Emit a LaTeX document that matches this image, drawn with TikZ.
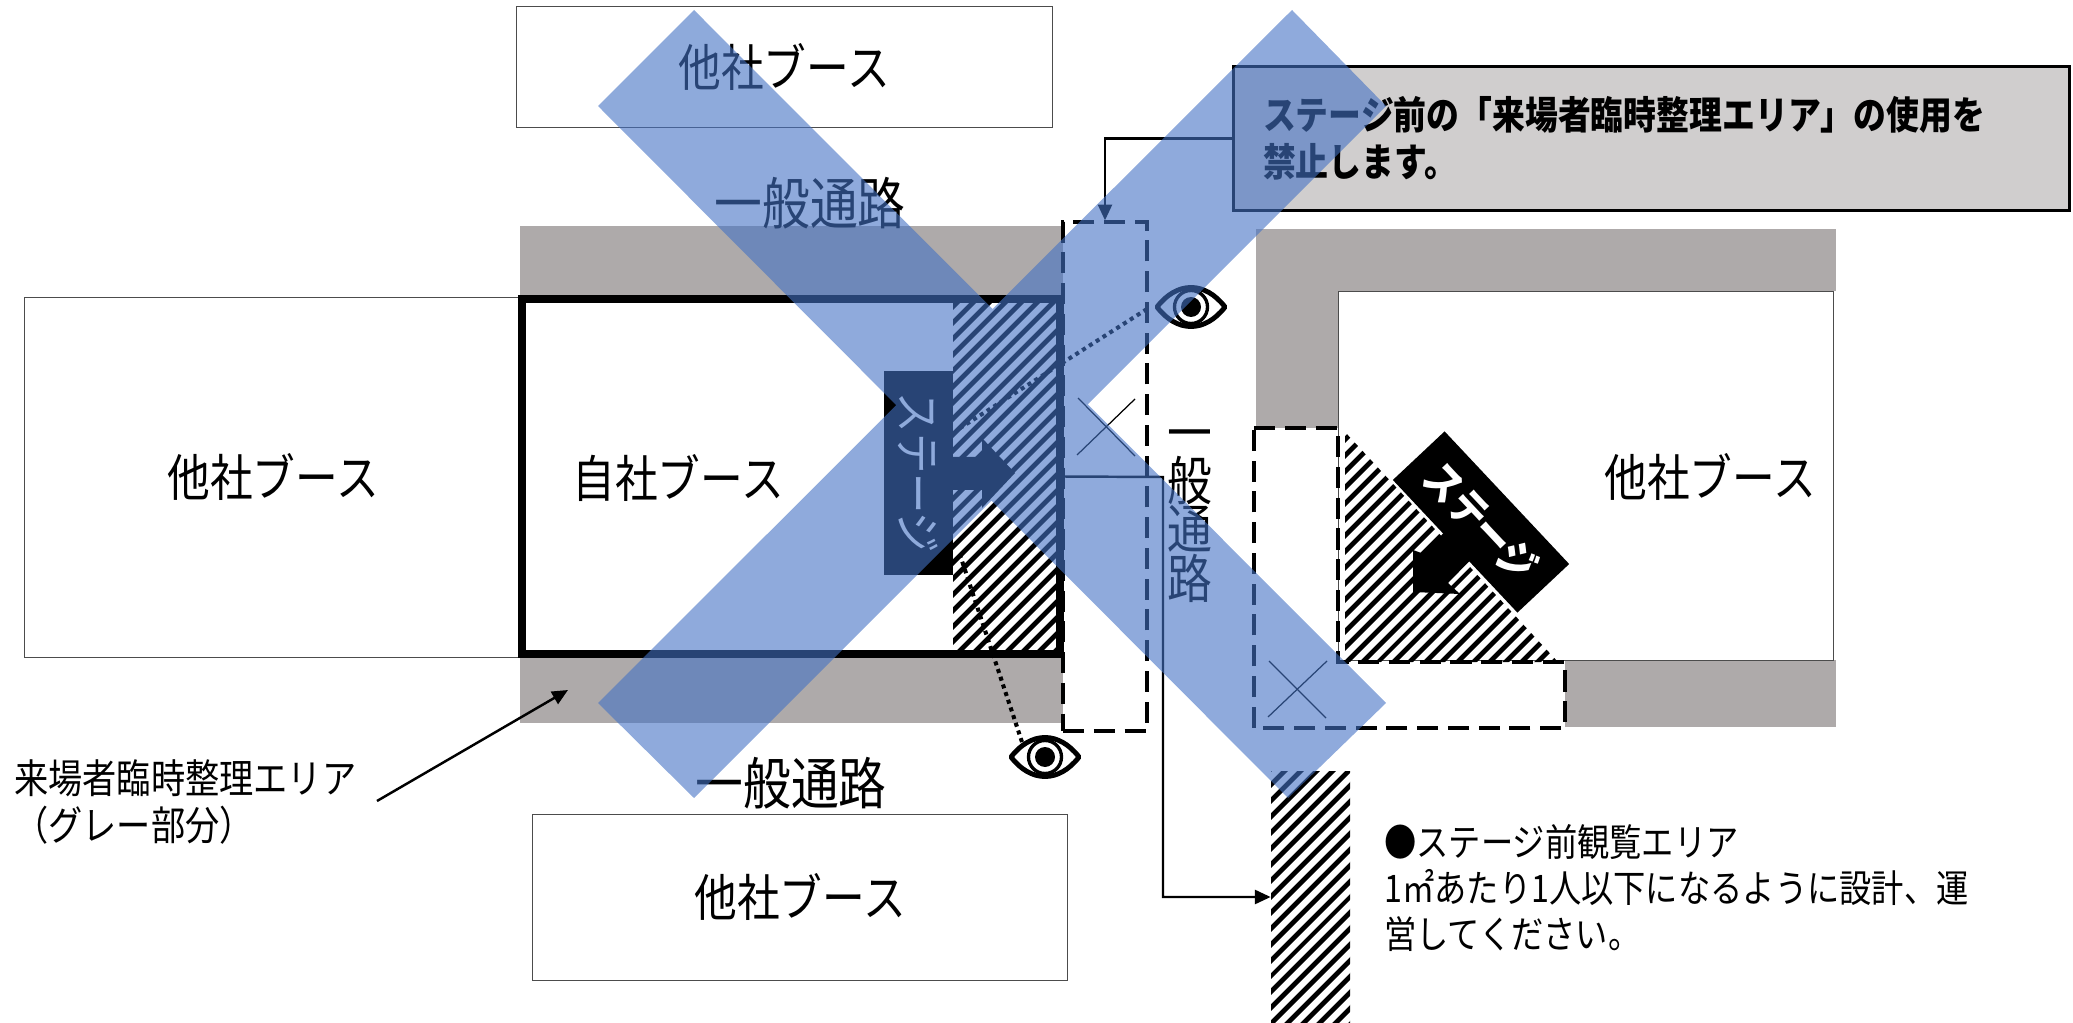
\documentclass[tikz,border=0pt]{standalone}
\usepackage{fontspec}
\setmainfont{Noto Sans CJK JP}[FakeStretch=0.85]
\usepackage{xcolor}
\usetikzlibrary{positioning,calc,patterns.meta,arrows.meta}
\definecolor{bandgray}{HTML}{AEAAAA}
\definecolor{calloutgray}{HTML}{D0CECE}
\definecolor{crossblue}{HTML}{4472C4}
\tikzset{
    boothbox/.style={draw=black!70, line width=0.5pt, fill=white, inner sep=0pt, font=\fontsize{28.6}{34}\selectfont},
    boothtext/.style={inner sep=0pt, font=\fontsize{28.6}{34}\selectfont},
    aisletext/.style={inner sep=0pt, font=\fontsize{32}{27.2}\selectfont},
    notetext/.style={inner sep=0pt, align=left, font=\fontsize{21.6}{26.2}\selectfont},
    labeltext/.style={inner sep=0pt, align=left, font=\fontsize{22.9}{26.2}\selectfont},
    stagebox/.style={fill=black, text=white, inner sep=0pt},
    hatchfill/.style={pattern={Lines[angle=45,distance=6.4pt,line width=2.8pt]}, pattern color=black},
    dashbox/.style={draw=black, line width=1.9pt, dash pattern=on 12pt off 5.5pt},
    conn/.style={draw=black, line width=1.4pt, -{Triangle[length=9pt,width=8pt]}},
    gaze/.style={draw=black, line width=2.3pt, dash pattern=on 2.3pt off 2.3pt},
    eyemark/.pic={
        \draw[line width=2.8pt, fill=white, line join=round] (-34,0) .. controls (-14,-26) and (14,-26) .. (34,0) .. controls (14,26) and (-14,26) .. (-34,0) -- cycle;
        \draw[line width=1.9pt] (0,0) circle (16.5);
        \fill (0,0) circle (10);
    }
}
\begin{document}
\begin{tikzpicture}[x=0.02cm,y=-0.02cm]
    \useasboundingbox (0,0) rectangle (2073,1023);

    % gray bands
    \fill[bandgray] (520,226) rectangle (1063,297);
    \fill[bandgray] (520,657) rectangle (1063,723);
    \fill[bandgray] (1256,229) rectangle (1836,291);
    \fill[bandgray] (1256,229) rectangle (1338,428);
    \fill[bandgray] (1565,660) rectangle (1836,727);

    % other booths
    \node[boothbox, minimum width=10.72cm, minimum height=2.42cm] (boothTop) at (784,67) {他社ブース};
    \node[boothbox, minimum width=9.96cm, minimum height=7.2cm] (boothLeft) at (273,477) {他社ブース};
    \node[boothbox, minimum width=10.7cm, minimum height=3.32cm] (boothBottom) at (800,897) {他社ブース};
    \node[boothbox, minimum width=9.9cm, minimum height=7.38cm] (boothRight) at (1586,475.5) {};
    \node[boothtext] (boothRightText) at (1710,477) {他社ブース};
    \node[boothtext] (ownText) at (678,478) {自社ブース};

    % own booth
    \fill[hatchfill] (953,299) rectangle (1060,654);
    \draw[line width=4pt] (522,299) rectangle (1060,654);
    \node[stagebox, rotate=-90, minimum width=4.08cm, minimum height=1.38cm, font=\fontsize{27}{32}\selectfont] (stageA) at (918.5,473) {ステージ};
    \fill (953,457) -- (982,457) -- (982,438) -- (1015,473) -- (982,508) -- (982,490) -- (953,490) -- cycle;

    % aisles
    \node[aisletext] (aisleTop) at (810,203) {一般通路};
    \node[aisletext] (aisleBottom) at (791,783) {一般通路};
    \node[aisletext, align=center, font=\fontsize{30}{27.2}\selectfont] (aisleSide) at (1190,516) {一\\般\\通\\路};

    % viewing areas
    \node[dashbox, minimum width=1.68cm, minimum height=10.18cm, inner sep=0pt] (frontAisle) at (1105,476.5) {};
    \draw[line width=0.7pt] (1078,398) -- (1135,456);
    \draw[line width=0.7pt] (1077,455) -- (1135,399);

    \fill[hatchfill] (1345,432) -- (1345,662) -- (1558,662) -- cycle;
    \draw[dashbox] (1254,428) -- (1338,428) -- (1338,662) -- (1565,662) -- (1565,728) -- (1254,728) -- cycle;
    \draw[line width=0.7pt] (1269,661) -- (1326,718);
    \draw[line width=0.7pt] (1268,717) -- (1327,661);

    % right stage
    \fill (1413,592) -- (1460,594) -- (1448,583) -- (1490,540) -- (1465,510) -- (1424,554) -- (1413,550) -- cycle;
    \node[stagebox, rotate=-46.8, minimum width=3.64cm, minimum height=1.42cm, font=\fontsize{24}{28}\selectfont\bfseries] (stageB) at (1481,522) {ステージ};

    % eyes and lines of sight
    \pic at (1191,307) {eyemark};
    \pic at (1045,757) {eyemark};
    \coordinate (gazeStartA) at (1147,309);
    \coordinate (gazeEndA) at (957,430);
    \coordinate (gazeStartB) at (1022,742);
    \coordinate (gazeEndB) at (960,555);
    \draw[gaze] (gazeStartA) -- (gazeEndA);
    \draw[gaze] (gazeStartB) -- (gazeEndB);

    % callout
    \node[draw=black, line width=1.7pt, fill=calloutgray, minimum width=16.74cm, minimum height=2.9cm, text width=15.54cm, inner sep=0pt, align=left, font=\fontsize{22}{26.6}\selectfont\bfseries] (callout) at (1651.5,138.5) {ステージ前の「来場者臨時整理エリア」の使用を\\禁止します。};
    \draw[conn] (callout.west) -| (frontAisle.north);

    % stripe sample and note
    \node[hatchfill, minimum width=1.58cm, minimum height=5.04cm, inner sep=0pt] (stripe) at (1310.5,897) {};
    \coordinate (bendA) at (1163,477);
    \draw[conn] (frontAisle.west) -- (bendA) |- (stripe.west);
    \node[notetext, anchor=west] (note) at (1384,888) {●ステージ前観覧エリア\\1㎡あたり1人以下になるように設計、運\\営してください。};

    % gray area label
    \node[labeltext, anchor=west] (grayLabel) at (14,802) {来場者臨時整理エリア\\（グレー部分）};
    \coordinate (grayPoint) at (568,690);
    \coordinate (grayStart) at (377,801);
    \draw[conn] (grayStart) -- (grayPoint);

    % big cross
    \fill[crossblue, opacity=0.6] (694,10) -- (1386,703) -- (1288,798) -- (598,106) -- cycle
        (1292,10) -- (1386,106) -- (694,798) -- (598,703) -- cycle;
\end{tikzpicture}
\end{document}
